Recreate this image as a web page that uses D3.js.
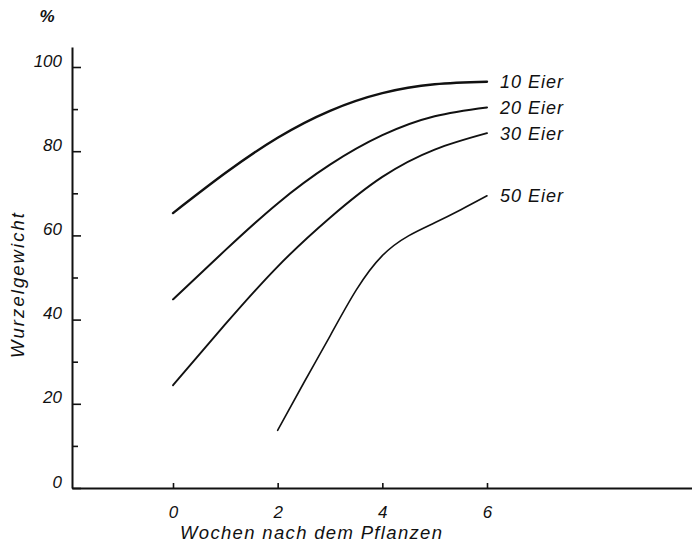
<!DOCTYPE html>
<html>
<head>
<meta charset="utf-8">
<script src="https://cdn.jsdelivr.net/npm/d3@7/dist/d3.min.js"></script>
<style>
  html, body { margin: 0; padding: 0; background: #fff; }
  svg { display: block; }
  text { font-family: "Liberation Sans", Arial, sans-serif; font-style: italic; fill: #111; }
</style>
</head>
<body>
<svg id="chart" width="692" height="547"></svg>
<script>
// ---- data ----
const weeks = [0, 1, 2, 3, 4, 5, 6];
const eier10 = [65.3, 74.8, 83.2, 89.6, 93.8, 95.9, 96.5];
const eier20 = [44.8, 56.5, 67.6, 76.8, 83.8, 88.3, 90.4];
const eier30 = [24.4, 38.9, 52.6, 64.2, 73.9, 80.4, 84.3];
const weeks50 = [2, 2.5, 3, 3.5, 4, 4.5, 5, 5.5, 6];
const eier50 = [13.7, 25.0, 36.1, 47.0, 55.2, 59.9, 63.0, 66.1, 69.4];
const seriesLabels = ["10 Eier", "20 Eier", "30 Eier", "50 Eier"];
const xTicks = [0, 2, 4, 6];
const yTicks = [0, 10, 20, 30, 40, 50, 60, 70, 80, 90, 100];
const yLabelTicks = [0, 20, 40, 60, 80, 100];
const xTitle = "Wochen  nach dem Pflanzen";
const yTitle = "Wurzelgewicht";
const unitLabel = "%";

const svg = d3.select("#chart");

// scales: calibrate on ticks, then extend to full axis extents
const x = d3.scaleLinear().domain([0, 6]).range([173, 487]);
x.domain([x.invert(72), x.invert(692)]).range([72, 692]);
const y = d3.scaleLinear().domain([0, 100]).range([488, 67]);
y.domain([0, y.invert(47)]).range([488, 47]);

const fontFam = "'Liberation Sans', Arial, sans-serif";

// x axis
const xAxis = d3.axisBottom(x).tickValues(xTicks).tickFormat(d3.format("d"))
  .tickSizeInner(-5).tickSizeOuter(0);
const gx = svg.append("g").attr("transform", `translate(0,${y(0)})`).call(xAxis);
gx.select(".domain").attr("stroke", "#111").attr("stroke-width", 2);
gx.selectAll(".tick line").attr("stroke", "#111").attr("stroke-width", 1.6);
gx.selectAll(".tick text").attr("y", 24).attr("dy", "0.35em")
  .style("font-size", "17px").style("font-family", fontFam)
  .style("font-style", "italic").attr("fill", "#111");

// y axis
const yAxis = d3.axisLeft(y).tickValues(yTicks)
  .tickFormat(d => yLabelTicks.includes(d) ? d3.format("d")(d) : "")
  .tickSizeInner(-8).tickSizeOuter(0).tickPadding(10);
const gy = svg.append("g").attr("transform", `translate(${x.range()[0]},0)`).call(yAxis);
gy.select(".domain").attr("stroke", "#111").attr("stroke-width", 2);
gy.selectAll(".tick line").attr("stroke", "#111").attr("stroke-width", 1.6)
  .attr("x2", d => yLabelTicks.includes(d) ? 9 : 6);
gy.selectAll(".tick text").attr("dy", "-0.05em")
  .style("font-size", "17px").style("font-family", fontFam)
  .style("font-style", "italic").attr("fill", "#111");

// curves
const line = d3.line().x(d => x(d[0])).y(d => y(d[1])).curve(d3.curveNatural);
const series = [
  { xs: weeks, ys: eier10, w: 2.4 },
  { xs: weeks, ys: eier20, w: 2.0 },
  { xs: weeks, ys: eier30, w: 1.9 },
  { xs: weeks50, ys: eier50, w: 1.6 }
];
series.forEach((s, i) => {
  const pts = s.xs.map((v, j) => [v, s.ys[j]]);
  svg.append("path").datum(pts).attr("d", line)
    .attr("fill", "none").attr("stroke", "#111").attr("stroke-width", s.w)
    .attr("stroke-linecap", "round");
  const last = pts[pts.length - 1];
  svg.append("text")
    .attr("x", x(last[0]) + 13).attr("y", y(last[1]))
    .attr("dy", "0.36em")
    .style("font-size", "18px").style("letter-spacing", "1px")
    .text(seriesLabels[i]);
});

// titles
svg.append("text").attr("x", 180).attr("y", 539)
  .attr("textLength", 262).attr("lengthAdjust", "spacing")
  .style("font-size", "18.5px").text(xTitle);
svg.append("text")
  .attr("transform", "translate(24,285.5) rotate(-90)")
  .attr("text-anchor", "middle")
  .attr("textLength", 145).attr("lengthAdjust", "spacing")
  .style("font-size", "18.5px").text(yTitle);
svg.append("text").attr("x", 47).attr("y", 22).attr("text-anchor", "middle")
  .style("font-size", "17px").style("font-weight", "bold").text(unitLabel);
</script>
</body>
</html>
